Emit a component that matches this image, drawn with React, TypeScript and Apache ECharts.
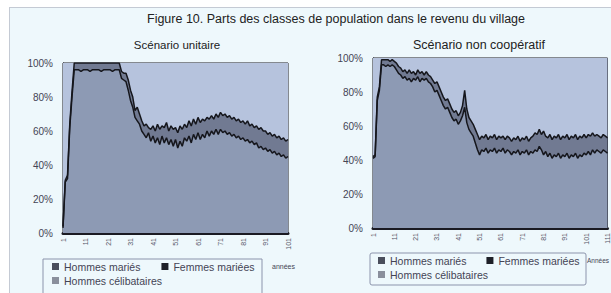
import React, { useEffect, useRef } from "react";
import * as echarts from "echarts";

// Cumulative shares (%) — Scénario unitaire
const unitaireHommesMaries = [
  3, 30, 32, 62, 80, 96, 96, 96, 95, 96,
  96, 96, 95, 96, 96, 96, 96, 95, 96, 96,
  96, 96, 95, 96, 96, 96, 91, 90, 89, 84,
  78, 74, 68, 66, 64, 60, 58, 56, 59, 54,
  57, 53, 56, 52, 57, 53, 56, 52, 55, 51,
  55, 50, 54, 51, 56, 54, 57, 53, 58, 55,
  59, 55, 58, 56, 60, 57, 60, 58, 61, 58,
  61, 59, 60, 58, 59, 57, 58, 56, 57, 55,
  56, 54, 55, 53, 54, 52, 53, 50, 51, 49,
  50, 48, 49, 47, 48, 46, 47, 45, 46, 44,
  45,
];
const unitaireCumulFemmes = [
  4, 31, 34, 64, 83, 100, 100, 100, 100, 100,
  100, 100, 100, 100, 100, 100, 100, 100, 100, 100,
  100, 100, 100, 100, 100, 100, 95, 94, 94, 90,
  84, 80, 72, 74, 70, 66, 63, 64, 62, 61,
  63, 60, 64, 61, 63, 62, 65, 60, 63, 61,
  62, 59, 63, 61, 64, 62, 66, 63, 67, 64,
  68, 65, 67, 66, 68, 67, 69, 67, 70, 68,
  71, 69, 70, 68, 69, 67, 68, 66, 67, 65,
  66, 64, 66, 63, 64, 62, 63, 61, 62, 60,
  60, 58, 59, 57, 58, 56, 57, 55, 56, 54,
  55,
];

// Scénario non coopératif
const nonCoopHommesMaries = [
  41, 42, 75, 81, 96, 96, 95, 96, 95, 96,
  95, 93, 91, 90, 88, 89, 87, 88, 86, 88,
  87, 89, 86, 88, 87, 88, 86, 85, 83, 80,
  81, 78, 75, 72, 70, 71, 68, 65, 63, 64,
  61, 63, 66, 71, 62, 58, 56, 54, 50, 46,
  43, 46, 45, 47, 44, 46, 45, 47, 44, 46,
  45, 47, 44, 46, 45, 43, 45, 44, 46, 43,
  45, 44, 46, 43, 45, 44, 46, 45, 48, 46,
  43, 45, 42, 44, 41, 43, 42, 44, 41, 43,
  42, 44, 41, 43, 42, 44, 41, 43, 42, 44,
  43, 45, 43, 46, 44, 46, 45, 44, 46, 45,
  44,
];
const nonCoopCumulFemmes = [
  42, 43, 77, 83, 99, 99, 99, 99, 98, 99,
  98, 97, 95, 94, 92, 93, 91, 93, 91, 92,
  90, 93, 91, 92, 90, 92, 90, 89, 87, 85,
  86, 83, 80, 77, 75, 76, 73, 70, 68, 69,
  66, 68, 72, 81, 70, 65, 63, 61, 58, 55,
  52, 54, 53, 55, 52, 54, 53, 55, 52, 54,
  53, 54, 52, 54, 53, 51, 53, 52, 54, 51,
  53, 52, 54, 51, 53, 54, 56, 55, 58, 55,
  57, 54, 53, 55, 52, 54, 53, 55, 52, 54,
  53, 55, 52, 54, 53, 55, 52, 54, 53, 55,
  53, 55, 54, 56, 54, 55, 54, 53, 55, 54,
  53,
];

const unitaireYears = unitaireHommesMaries.map((_, i) => String(i + 1));
const nonCoopYears = nonCoopHommesMaries.map((_, i) => String(i + 1));

const seriesNames = ["Hommes mariés", "Femmes mariées", "Hommes célibataires"];
const yTicks = [0, 20, 40, 60, 80, 100];

const FONT = "'Liberation Sans', Arial, sans-serif";
const COL_LOW = "#8D9AB4";
const COL_BAND = "#717A92";
const COL_TOP = "#B6C3DD";

function buildSeries(lower: number[], upper: number[], idx: number, stack: string) {
  const mar = lower;
  const fem = lower.map((v, i) => upper[i] - v);
  const cel = upper.map((v) => 100 - v);
  const base = {
    type: "line",
    stack,
    xAxisIndex: idx,
    yAxisIndex: idx,
    symbol: "none",
    silent: true,
  };
  return [
    { ...base, name: seriesNames[0], data: mar, lineStyle: { color: "#15161c", width: 1.5 }, areaStyle: { color: COL_LOW, opacity: 1 }, itemStyle: { color: "#4a4e5c" } },
    { ...base, name: seriesNames[1], data: fem, lineStyle: { color: "#15161c", width: 1.5 }, areaStyle: { color: COL_BAND, opacity: 1 }, itemStyle: { color: "#1e2028" } },
    { ...base, name: seriesNames[2], data: cel, lineStyle: { width: 0 }, areaStyle: { color: COL_TOP, opacity: 1 }, itemStyle: { color: "#8a8f9c" } },
  ];
}

function xAxis(idx: number, cats: string[]) {
  return {
    type: "category",
    gridIndex: idx,
    data: cats,
    boundaryGap: false,
    axisLine: { lineStyle: { color: "#1a1a22", width: 3 } },
    axisTick: { show: false },
    axisLabel: { interval: 9, rotate: 90, fontSize: 7, color: "#556", margin: 5, fontFamily: FONT },
  };
}

function yAxis(idx: number) {
  return {
    type: "value",
    gridIndex: idx,
    min: yTicks[0],
    max: yTicks[yTicks.length - 1],
    interval: 20,
    axisLine: { show: true, lineStyle: { color: "#1a1a22", width: 1 } },
    axisTick: { show: false },
    splitLine: { show: false },
    axisLabel: { formatter: "{value}%", fontSize: 10, color: "#445", margin: 10, fontFamily: FONT },
  };
}

const legendCommon = {
  orient: "horizontal",
  icon: "rect",
  itemWidth: 7,
  itemHeight: 7,
  padding: 0,
  selectedMode: false,
  textStyle: { fontSize: 10.5, color: "#445", fontFamily: FONT },
};

export default function App() {
  const ref = useRef<HTMLDivElement>(null);
  useEffect(() => {
    document.body.style.margin = "0";
    if (!ref.current) return;
    const chart = echarts.init(ref.current, undefined, { renderer: "svg" });
    chart.setOption({
      animation: false,
      textStyle: { fontFamily: FONT },
      title: [
        { text: "Figure 10. Parts des classes de population dans le revenu du village", left: 336, top: 12, textAlign: "center", padding: 0, textStyle: { fontSize: 12.5, fontWeight: "normal", color: "#222", fontFamily: FONT } },
        { text: "Scénario unitaire", left: 177, top: 39, textAlign: "center", padding: 0, textStyle: { fontSize: 11.5, fontWeight: "normal", color: "#222", fontFamily: FONT } },
        { text: "Scénario non coopératif", left: 479, top: 38, textAlign: "center", padding: 0, textStyle: { fontSize: 12.5, fontWeight: "normal", color: "#222", fontFamily: FONT } },
      ],
      grid: [
        { left: 63, top: 63, width: 225, height: 170, show: true, borderColor: "#1a1a22", borderWidth: 1, backgroundColor: "transparent" },
        { left: 373, top: 58, width: 250, height: 170, show: true, borderColor: "#1a1a22", borderWidth: 1, backgroundColor: "transparent" },
      ],
      xAxis: [xAxis(0, unitaireYears), xAxis(1, nonCoopYears)],
      yAxis: [yAxis(0), yAxis(1)],
      legend: [
        { ...legendCommon, left: 52, top: 261, itemGap: 21, data: [{ name: seriesNames[0], itemStyle: { color: "#4a4e5c" } }, { name: seriesNames[1], itemStyle: { color: "#1e2028" } }] },
        { ...legendCommon, left: 52, top: 275, data: [{ name: seriesNames[2], itemStyle: { color: "#8a8f9c" } }] },
        { ...legendCommon, left: 378, top: 255, itemGap: 20, data: [{ name: seriesNames[0], itemStyle: { color: "#4a4e5c" } }, { name: seriesNames[1], itemStyle: { color: "#1e2028" } }] },
        { ...legendCommon, left: 378, top: 269, data: [{ name: seriesNames[2], itemStyle: { color: "#8a8f9c" } }] },
      ],
      graphic: [
        { type: "rect", z: -1, shape: { x: 43, y: 259, width: 219, height: 40 }, style: { fill: "none", stroke: "#8C94AC", lineWidth: 1 } },
        { type: "rect", z: -1, shape: { x: 370, y: 253, width: 216, height: 32, r: 2 }, style: { fill: "none", stroke: "#8C94AC", lineWidth: 1 } },
        { type: "text", x: 272, y: 263, style: { text: "années", fontSize: 7, fill: "#445", fontFamily: FONT } },
        { type: "text", x: 587, y: 257, style: { text: "Années", fontSize: 6.5, fill: "#445", fontFamily: FONT } },
      ],
      series: [
        ...buildSeries(unitaireHommesMaries, unitaireCumulFemmes, 0, "u"),
        ...buildSeries(nonCoopHommesMaries, nonCoopCumulFemmes, 1, "n"),
      ],
    });
    return () => chart.dispose();
  }, []);
  return (
    <div style={{ position: "relative", width: 611, height: 293, background: "#ffffff", overflow: "hidden" }}>
      <div style={{ position: "absolute", left: 9, top: 7, width: 640, height: 320, background: "#EEF8FC", border: "1px solid #C4CAD4" }} />
      <div ref={ref} style={{ position: "absolute", left: 0, top: 0, width: 611, height: 293 }} />
    </div>
  );
}
